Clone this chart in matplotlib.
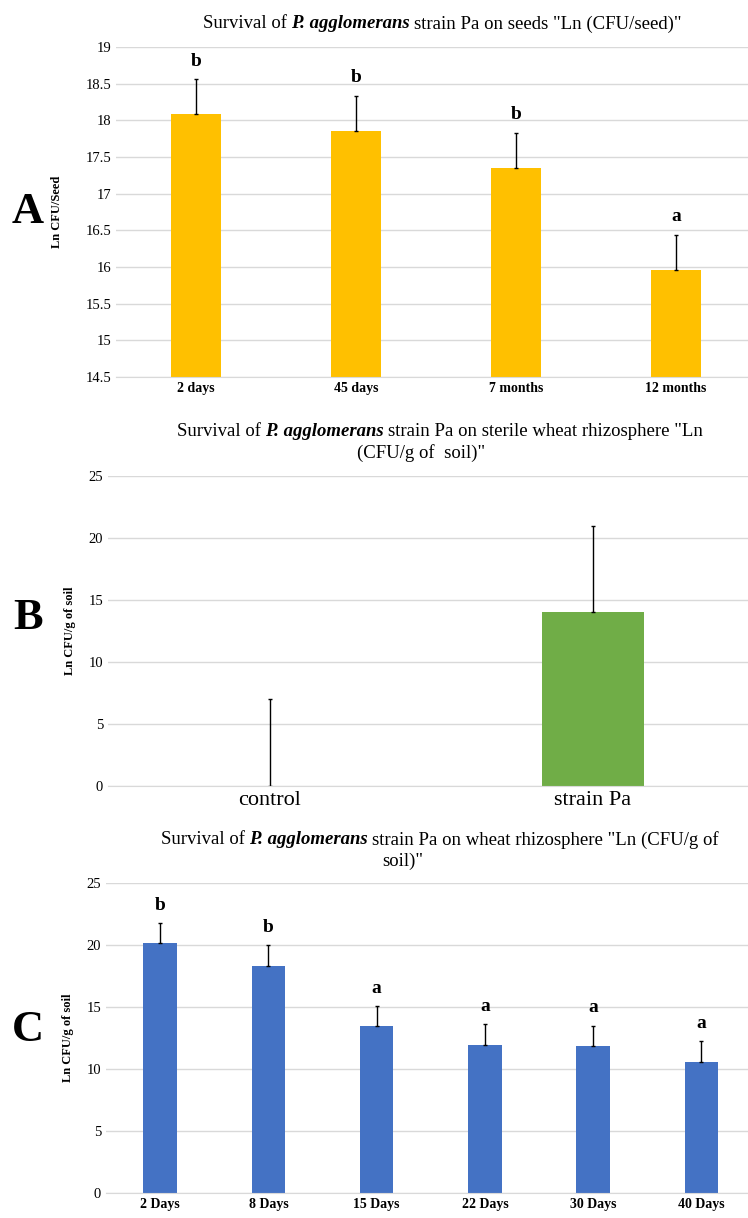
import matplotlib
matplotlib.use("Agg")
import matplotlib.pyplot as plt

plt.rc('font', family='Liberation Serif', size=10)

# Panel A - seeds
seed_times = ["2 days", "45 days", "7 months", "12 months"]
seed_means = [18.08, 17.85, 17.35, 15.96]
seed_err = [0.48, 0.48, 0.48, 0.48]
seed_letters = ["b", "b", "b", "a"]

# Panel B - sterile rhizosphere
sterile_groups = ["control", "strain Pa"]
sterile_means = [0.0, 14.0]
sterile_err = [7.0, 7.0]

# Panel C - wheat rhizosphere
rhizo_days = ["2 Days", "8 Days", "15 Days", "22 Days", "30 Days", "40 Days"]
rhizo_means = [20.13, 18.33, 13.44, 11.94, 11.83, 10.56]
rhizo_err = [1.62, 1.64, 1.62, 1.65, 1.65, 1.66]
rhizo_letters = ["b", "b", "a", "a", "a", "a"]

W, H = 748, 1218
fig = plt.figure(figsize=(W / 100, H / 100), dpi=100)
grid_col = "#D9D9D9"


def style_ax(ax):
    for s in ["top", "right", "left"]:
        ax.spines[s].set_visible(False)
    ax.spines["bottom"].set_color(grid_col)
    ax.yaxis.grid(True, color=grid_col, linewidth=1)
    ax.set_axisbelow(True)
    ax.tick_params(length=0)
    ax.tick_params(axis="y", labelsize=10.5)


def rich_line(xc, y, pieces, size, gap=4):
    # one title line made of pieces in different styles, centred at xc (px)
    r = fig.canvas.get_renderer()
    items = []
    for s, kw in pieces:
        t = fig.text(0, 1 - y / H, s, fontsize=size, va="center", ha="left", **kw)
        items.append((t, t.get_window_extent(r).width))
    total = sum(w for _, w in items) + gap * (len(items) - 1)
    x = xc - total / 2
    for t, w in items:
        t.set_x(x / W)
        x += w + gap


bi = dict(weight="bold", style="italic")
ekw = dict(elinewidth=1, capsize=1.2, ecolor="black")

# ---- A
axA = fig.add_axes([116 / W, 1 - 377 / H, 1 - 116 / W, 330 / H])
style_ax(axA)
xa = range(len(seed_times))
axA.bar(xa, seed_means, width=0.31, color="#FFC000", yerr=[[0] * 4, seed_err], error_kw=ekw)
axA.set_ylim(14.5, 19)
axA.set_yticks([14.5, 15, 15.5, 16, 16.5, 17, 17.5, 18, 18.5, 19])
axA.set_yticklabels(["14.5", "15", "15.5", "16", "16.5", "17", "17.5", "18", "18.5", "19"])
axA.set_xlim(-0.5, 3.45)
axA.set_xticks(list(xa))
axA.set_xticklabels(seed_times, fontweight="bold", fontsize=10)
axA.set_ylabel("Ln CFU/Seed", fontweight="bold", fontsize=9, labelpad=16)
for i in xa:
    axA.annotate(seed_letters[i], (i, seed_means[i] + seed_err[i]), xytext=(0, 7),
                 textcoords="offset points", ha="center", va="bottom", fontsize=14, fontweight="bold")
fig.text(28 / W, 1 - 212 / H, "A", fontsize=32, fontweight="bold", ha="center", va="center")

# ---- B
axB = fig.add_axes([108 / W, 1 - 786 / H, 1 - 108 / W, 310 / H])
style_ax(axB)
xb = range(len(sterile_groups))
axB.bar(xb, sterile_means, width=0.316, color="#70AD47", yerr=[[0, 0], sterile_err], error_kw=ekw)
axB.set_ylim(0, 25)
axB.set_yticks([0, 5, 10, 15, 20, 25])
axB.set_xlim(-0.5, 1.48)
axB.set_xticks(list(xb))
axB.set_xticklabels(sterile_groups, fontsize=16)
axB.set_ylabel("Ln CFU/g of soil", fontweight="bold", fontsize=9, labelpad=9)
fig.text(28 / W, 1 - 618 / H, "B", fontsize=32, fontweight="bold", ha="center", va="center")

# ---- C
axC = fig.add_axes([106 / W, 1 - 1193 / H, 1 - 106 / W, 310 / H])
style_ax(axC)
xc = range(len(rhizo_days))
axC.bar(xc, rhizo_means, width=0.31, color="#4472C4", yerr=[[0] * 6, rhizo_err], error_kw=ekw)
axC.set_ylim(0, 25)
axC.set_yticks([0, 5, 10, 15, 20, 25])
axC.set_xlim(-0.5, 5.43)
axC.set_xticks(list(xc))
axC.set_xticklabels(rhizo_days, fontweight="bold", fontsize=10)
axC.set_ylabel("Ln CFU/g of soil", fontweight="bold", fontsize=9, labelpad=9)
for i in xc:
    axC.annotate(rhizo_letters[i], (i, rhizo_means[i] + rhizo_err[i]), xytext=(0, 7),
                 textcoords="offset points", ha="center", va="bottom", fontsize=14, fontweight="bold")
fig.text(28 / W, 1 - 1030 / H, "C", fontsize=32, fontweight="bold", ha="center", va="center")

# titles
ts = 13.5
rich_line(442, 24, [("Survival of", {}), ("P. agglomerans", bi),
                    ('strain Pa on seeds "Ln (CFU/seed)"', {})], ts)
rich_line(440, 432, [("Survival of", {}), ("P. agglomerans", bi),
                     ('strain Pa on sterile wheat rhizosphere "Ln', {})], ts)
rich_line(421, 453, [('(CFU/g of  soil)"', {})], ts)
rich_line(440, 840, [("Survival of", {}), ("P. agglomerans", bi),
                     ('strain Pa on wheat rhizosphere "Ln (CFU/g of', {})], ts)
rich_line(403, 861, [('soil)"', {})], ts)

fig.savefig("out.png", dpi=100)
